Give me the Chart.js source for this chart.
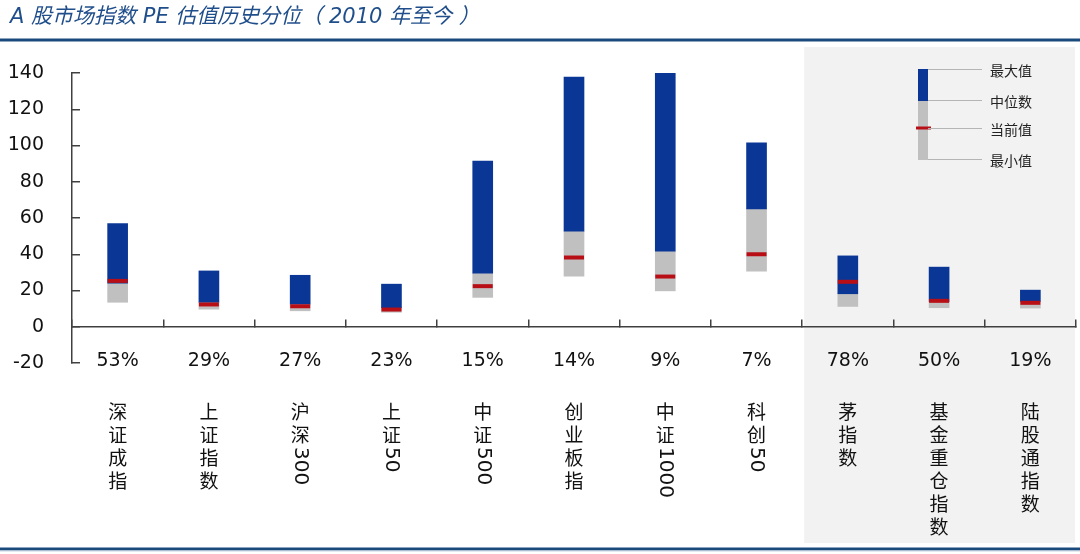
<!DOCTYPE html>
<html>
<head>
<meta charset="utf-8">
<script src="https://cdn.jsdelivr.net/npm/chart.js@4/dist/chart.umd.min.js"></script>
<style>
  body { margin: 0; background: #fff; }
  #chart { display: block; }
</style>
</head>
<body>
<canvas id="chart" width="1080" height="554"></canvas>
<script>
// 各指数 PE 估值（2010 年至今）
const categories = ["深证成指", "上证指数", "沪深300", "上证50", "中证500", "创业板指", "中证1000", "科创50", "茅指数", "基金重仓指数", "陆股通指数"];
const percentiles = ["53%", "29%", "27%", "23%", "15%", "14%", "9%", "7%", "78%", "50%", "19%"];
const maxVals = [56.9, 30.8, 28.4, 23.5, 91.4, 137.8, 140.3, 101.5, 39.1, 32.9, 20.2];
const medianVals = [24.0, 13.5, 12.5, 10.5, 29.6, 52.8, 41.7, 65.0, 18.2, 14.0, 14.0];
const currentVals = [25.3, 12.3, 11.3, 9.5, 22.4, 38.2, 27.7, 40.0, 24.8, 14.3, 13.2];
const minVals = [13.5, 9.7, 8.8, 8.0, 16.2, 27.9, 19.8, 30.7, 11.2, 10.5, 10.3];
const yTicks = { min: -20, max: 140, step: 20 };

const BLUE = "#0a3796";
const GRAY = "#c0c0c0";
const RED = "#b80f16";
const AXIS = "#404040";
const CJK = "'Noto Sans CJK SC', sans-serif";

const frame = {
    id: "frame",
    beforeDraw(chart) {
        const c = chart.ctx;
        const x = chart.scales.x;
        c.save();
        c.fillStyle = "#fff";
        c.fillRect(0, 0, chart.width, chart.height);

        // 右侧三个指数的灰色底
        const left = (x.getPixelForValue(7) + x.getPixelForValue(8)) / 2 + 2;
        c.fillStyle = "#f2f2f2";
        c.fillRect(left, 47, 1075 - left, 496);

        // 标题
        c.fillStyle = "#1f4e8a";
        c.font = "italic 21px 'DejaVu Sans', " + CJK;
        c.textBaseline = "middle";
        c.fillText("A 股市场指数 PE 估值历史分位（ 2010 年至今 ）", 10, 18);

        c.fillStyle = "#1a4a7c";
        c.fillRect(0, 38.5, chart.width, 3);
        c.fillRect(0, 547.5, chart.width, 3);
        c.fillStyle = "#c9d6e6";
        c.fillRect(0, 550.5, chart.width, 1);
        c.restore();
    },
    afterDraw(chart) {
        const c = chart.ctx;
        const x = chart.scales.x;
        c.save();
        c.fillStyle = "#111";
        c.textAlign = "center";
        c.textBaseline = "middle";

        categories.forEach((name, i) => {
            const cx = x.getPixelForValue(i);
            c.font = "19px 'DejaVu Sans'";
            c.fillText(percentiles[i], cx, 361);

            // 竖排名称，数字旋转
            let y = 402;
            const parts = name.match(/\d+|[^\d]/g);
            parts.forEach(p => {
                if (/\d/.test(p)) {
                    c.font = "20px 'DejaVu Sans'";
                    const w = c.measureText(p).width;
                    c.save();
                    c.translate(cx, y - 1);
                    c.rotate(Math.PI / 2);
                    c.textAlign = "left";
                    c.fillText(p, 0, 0);
                    c.restore();
                    y += w + 2;
                } else {
                    c.font = "19px " + CJK;
                    c.fillText(p, cx, y + 10);
                    y += 23;
                }
            });
        });

        // 图例
        c.fillStyle = BLUE;
        c.fillRect(918, 69, 10, 32);
        c.fillStyle = GRAY;
        c.fillRect(918, 101, 10, 59);
        c.fillStyle = RED;
        c.fillRect(916, 126.5, 15, 3);
        c.strokeStyle = "#b5b5b5";
        c.lineWidth = 1;
        const rows = [[69.5, "最大值"], [100.5, "中位数"], [128.5, "当前值"], [159.5, "最小值"]];
        c.font = "14px " + CJK;
        c.textAlign = "left";
        c.fillStyle = "#222";
        rows.forEach(([yy, label]) => {
            c.beginPath();
            c.moveTo(928, yy);
            c.lineTo(982, yy);
            c.stroke();
            c.fillText(label, 990, yy + 1);
        });
        c.restore();
    }
};

new Chart(document.getElementById("chart"), {
    data: {
        labels: categories,
        datasets: [
            {
                type: "line",
                label: "当前值",
                data: currentVals,
                showLine: false,
                pointStyle: "line",
                pointRadius: 10,
                pointHoverRadius: 10,
                pointBorderWidth: 4,
                pointBorderColor: RED,
                pointBackgroundColor: RED,
                order: 0
            },
            {
                type: "bar",
                label: "中位数以上",
                data: maxVals.map((v, i) => [medianVals[i], v]),
                backgroundColor: BLUE,
                borderWidth: 0,
                barThickness: 20,
                grouped: false,
                order: 1
            },
            {
                type: "bar",
                label: "中位数以下",
                data: medianVals.map((v, i) => [minVals[i], v]),
                backgroundColor: GRAY,
                borderWidth: 0,
                barThickness: 20,
                grouped: false,
                order: 2
            }
        ]
    },
    options: {
        responsive: false,
        devicePixelRatio: 1,
        animation: false,
        layout: { autoPadding: false, padding: { left: 0, top: 73, right: 4, bottom: 191 } },
        plugins: {
            legend: { display: false },
            tooltip: { enabled: false }
        },
        scales: {
            x: {
                position: { y: 0 },
                offset: true,
                ticks: { display: false },
                grid: {
                    offset: true,
                    drawOnChartArea: false,
                    tickLength: -8,
                    color: AXIS,
                    lineWidth: 1.5
                },
                border: { color: AXIS, width: 1.5 }
            },
            y: {
                min: yTicks.min,
                max: yTicks.max,
                afterFit: s => { s.width = 72; },
                ticks: {
                    stepSize: yTicks.step,
                    padding: 36,
                    color: "#111",
                    font: { family: "'DejaVu Sans'", size: 19 }
                },
                grid: {
                    drawOnChartArea: false,
                    tickLength: -8,
                    color: AXIS,
                    lineWidth: 1.5
                },
                border: { color: AXIS, width: 1.5 }
            }
        }
    },
    plugins: [frame]
});
</script>
</body>
</html>
